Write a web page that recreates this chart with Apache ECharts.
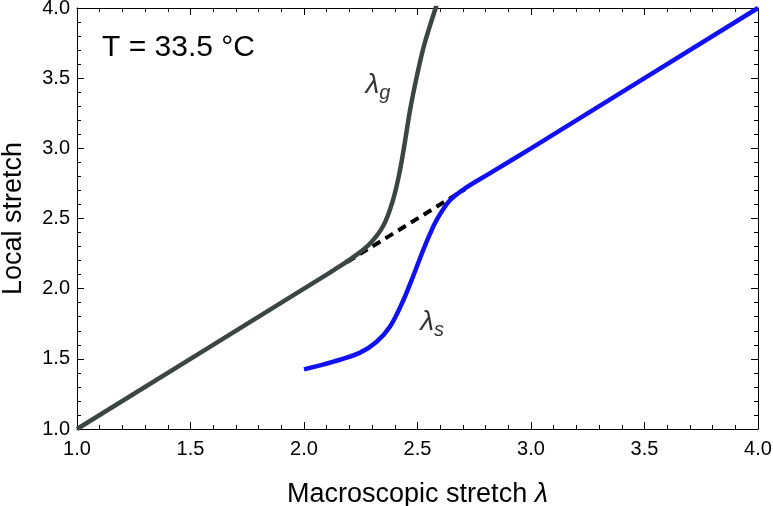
<!DOCTYPE html>
<html>
<head>
<meta charset="utf-8">
<script src="https://cdn.jsdelivr.net/npm/echarts@6/dist/echarts.min.js"></script>
<style>
  html, body { margin: 0; padding: 0; background: #fff; }
  #chart { width: 773px; height: 506px; }
</style>
</head>
<body>
<div id="chart"></div>
<script>
// lambda_g curve (gray)
var gX = [1.0, 2.0, 2.10, 2.16, 2.22, 2.29, 2.35, 2.39, 2.42, 2.443, 2.468, 2.498, 2.53, 2.584];
var gY = [1.0, 2.0, 2.10, 2.162, 2.228, 2.32, 2.45, 2.62, 2.82, 3.03, 3.28, 3.52, 3.74, 4.02];
// lambda_s curve (blue)
var sX = [2.0, 2.13, 2.247, 2.32, 2.379, 2.438, 2.474, 2.50, 2.525, 2.555, 2.584, 2.643, 2.716, 2.82, 3.0, 4.0];
var sY = [1.425, 1.48, 1.544, 1.622, 1.73, 1.919, 2.061, 2.17, 2.275, 2.39, 2.489, 2.63, 2.722, 2.823, 3.0, 4.0];
// dashed connector
var dX = [2.19, 2.71];
var dY = [2.19, 2.71];

function pairs(xs, ys) {
  var out = [];
  for (var i = 0; i < xs.length; i++) out.push([xs[i], ys[i]]);
  return out;
}

var font = '"Liberation Sans", Arial, Helvetica, sans-serif';

function axisBase(show) {
  return {
    type: 'value',
    min: 1, max: 4, interval: 0.5,
    axisLine: { show: true, onZero: false, lineStyle: { color: '#000', width: 1 } },
    axisTick: { show: true, inside: true, length: 7, lineStyle: { color: '#000', width: 1 } },
    minorTick: { show: true, splitNumber: 5, length: 4, lineStyle: { color: '#000', width: 1 } },
    splitLine: { show: false },
    axisLabel: { show: show, color: '#000', fontFamily: font, fontSize: 20,
      formatter: function (v) { return v.toFixed(1); } }
  };
}

var xBottom = axisBase(true);
xBottom.position = 'bottom';
xBottom.name = 'Macroscopic stretch {i|λ}';
xBottom.nameLocation = 'middle';
xBottom.nameGap = 52;
xBottom.nameTextStyle = { color: '#000', fontFamily: font, fontSize: 27,
  rich: { i: { fontFamily: font, fontSize: 27, fontStyle: 'italic', color: '#000' } } };
xBottom.axisLabel.margin = 10;
xBottom.axisLabel.showMaxLabel = true;

var xTop = axisBase(false);
xTop.position = 'top';

var yLeft = axisBase(true);
yLeft.position = 'left';
yLeft.name = 'Local stretch';
yLeft.nameLocation = 'middle';
yLeft.nameGap = 50;
yLeft.nameTextStyle = { color: '#000', fontFamily: font, fontSize: 27 };
yLeft.axisLabel.margin = 7;

var yRight = axisBase(false);
yRight.position = 'right';

var chart = echarts.init(document.getElementById('chart'));
chart.setOption({
  animation: false,
  backgroundColor: '#fff',
  grid: { left: 77, right: 15, top: 8, bottom: 77, containLabel: false, outerBoundsMode: 'none' },
  xAxis: [xBottom, xTop],
  yAxis: [yLeft, yRight],
  graphic: [{
    type: 'text', left: 102, top: 33,
    style: { text: 'T = 33.5 °C', fill: '#000', font: '30px ' + font }
  }],
  series: [
    {
      type: 'line', data: pairs(dX, dY), showSymbol: false, z: 1,
      lineStyle: { color: '#000', width: 4, type: [9, 6] }
    },
    {
      type: 'line', data: pairs(gX, gY), showSymbol: false, smooth: 0.35, z: 3,
      lineStyle: { color: '#3b4544', width: 4.5 }
    },
    {
      type: 'line', data: pairs(sX, sY), showSymbol: false, smooth: 0.35, z: 2,
      lineStyle: { color: '#1010f0', width: 4.5 }
    },
    {
      type: 'scatter', symbolSize: 0, silent: true,
      data: [
        { value: [2.326, 3.45], label: { formatter: '{a|λ}{b|g}' } },
        { value: [2.564, 1.76], label: { formatter: '{a|λ}{b|s}' } }
      ],
      label: {
        show: true, position: 'inside', color: '#000',
        rich: {
          a: { fontFamily: font, fontSize: 28, fontStyle: 'italic', color: '#000' },
          b: { fontFamily: font, fontSize: 20, fontStyle: 'italic', color: '#000', padding: [16, 0, 0, 0] }
        }
      }
    }
  ]
});
</script>
</body>
</html>
